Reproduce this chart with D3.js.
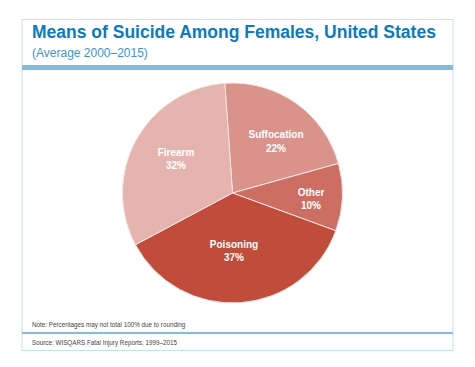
<!DOCTYPE html>
<html>
<head>
<meta charset="utf-8">
<script src="https://cdn.jsdelivr.net/npm/d3@7"></script>
<style>
  body { margin: 0; background: #fff; }
  svg text { font-family: "Liberation Sans", Arial, sans-serif; }
</style>
</head>
<body>
<svg id="chart" width="475" height="367"></svg>
<script>
// data
const means = ['Suffocation', 'Other', 'Poisoning', 'Firearm'];
const shares = [22, 10, 37, 32];
const sliceColors = ['#d9938a', '#cc6e62', '#c04d3c', '#e6b4ae'];

const svg = d3.select('#chart');

// frame
svg.append('rect').attr('x', 22).attr('y', 19.5).attr('width', 431).attr('height', 331)
    .attr('fill', '#fff').attr('stroke', '#c5e0f0').attr('stroke-width', 1);
svg.append('rect').attr('x', 22).attr('y', 65).attr('width', 431).attr('height', 5).attr('fill', '#82bde0');
svg.append('rect').attr('x', 22).attr('y', 332).attr('width', 431).attr('height', 2).attr('fill', '#82bde0');

// titles
svg.append('text').attr('x', 32).attr('y', 38).attr('fill', '#0a7bc2')
    .style('font-size', '17.5px').style('font-weight', 'bold')
    .text('Means of Suicide Among Females, United States');
svg.append('text').attr('x', 32).attr('y', 57).attr('fill', '#3d93d0')
    .style('font-size', '12px')
    .text('(Average 2000\u20132015)');

// pie
const cx = 232.5, cy = 193, r = 110;
const pie = d3.pie().sort(null).value(d => d)
    .startAngle(-4 * Math.PI / 180).endAngle(356 * Math.PI / 180);
const arc = d3.arc().innerRadius(0).outerRadius(r);
const arcs = pie(shares);

const g = svg.append('g').attr('transform', `translate(${cx},${cy})`);
g.selectAll('path').data(arcs).join('path')
    .attr('d', arc)
    .attr('fill', (d, i) => sliceColors[i])
    .attr('stroke', '#f4e6e3').attr('stroke-width', 1);

// label positions (relative to pie center)
const labelPos = [[43.5, -55], [78.5, 2.5], [1.5, 54.5], [-56.5, -37.5]];
const lbl = g.selectAll('g.lbl').data(arcs).join('g').attr('class', 'lbl')
    .attr('transform', (d, i) => `translate(${labelPos[i][0]},${labelPos[i][1]})`);
lbl.append('text').attr('text-anchor', 'middle').attr('fill', '#fff')
    .style('font-size', '10px').style('font-weight', 'bold')
    .text((d, i) => means[i]);
lbl.append('text').attr('text-anchor', 'middle').attr('y', 13.5).attr('fill', '#fff')
    .style('font-size', '10px').style('font-weight', 'bold')
    .text((d, i) => shares[i] + '%');

// footnotes
svg.append('text').attr('x', 32).attr('y', 327).attr('fill', '#444')
    .style('font-size', '6.3px').text('Note: Percentages may not total 100% due to rounding');
svg.append('text').attr('x', 32).attr('y', 345).attr('fill', '#444')
    .style('font-size', '6.3px').text('Source: WISQARS Fatal Injury Reports, 1999\u20132015');
</script>
</body>
</html>
